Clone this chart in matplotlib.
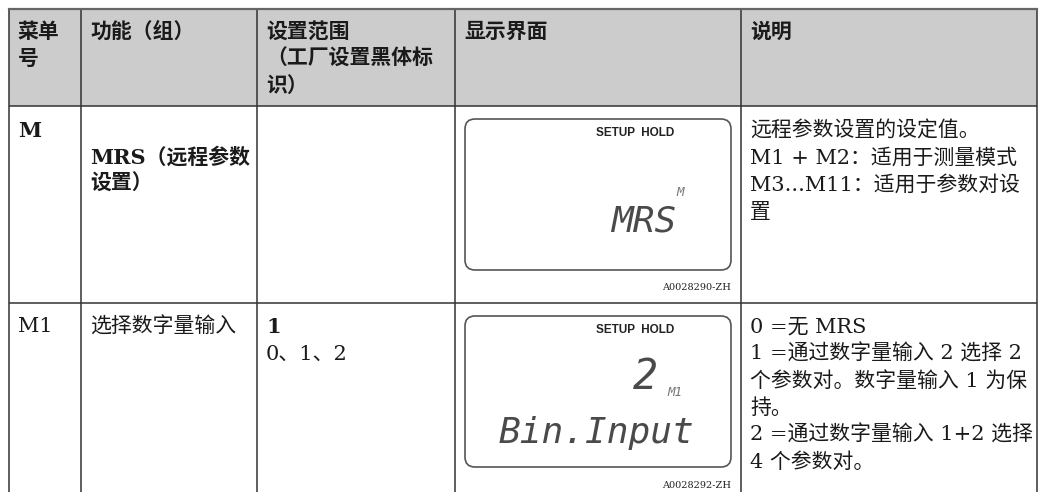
import matplotlib.pyplot as plt
from matplotlib.patches import Rectangle, FancyBboxPatch

# table content
headers = [['菜单', '号'], ['功能（组）'], ['设置范围', '（工厂设置黑体标', '识）'], ['显示界面'], ['说明']]
menu_ids = ['M', 'M1']
menu_bold = [True, False]
functions = [['MRS（远程参数', '设置）'], ['选择数字量输入']]
function_bold = [True, False]
ranges = [[], ['1', '0、1、2']]
range_bold = [[], [True, False]]
descriptions = [
    ['远程参数设置的设定值。', 'M1 + M2：适用于测量模式', 'M3...M11：适用于参数对设', '置'],
    ['0 =无 MRS', '1 =通过数字量输入 2 选择 2', '个参数对。数字量输入 1 为保', '持。',
     '2 =通过数字量输入 1+2 选择', '4 个参数对。'],
]
# display screens
lcd_status = ['SETUP  HOLD', 'SETUP  HOLD']
lcd_value = ['', '2']
lcd_code = ['M', 'M1']
lcd_main = ['MRS', 'Bin.Input']
figure_ids = ['A0028290-ZH', 'A0028292-ZH']

W, H = 1044, 492
col_x = [9, 81, 257, 455, 741, 1037]
row_y = [9, 106, 303, 530]
line_h = 27
fs = 15
body_font = ['DejaVu Serif', 'Noto Sans CJK SC']
head_font = ['Noto Sans CJK SC', 'DejaVu Sans']
ink = '#1a1a1a'
grid = '#333333'

fig = plt.figure(figsize=(W / 100, H / 100), dpi=100)
ax = fig.add_axes([0, 0, 1, 1])
ax.set_xlim(0, W)
ax.set_ylim(H, 0)
ax.axis('off')

# header background
ax.add_patch(Rectangle((col_x[0], row_y[0]), col_x[-1] - col_x[0], row_y[1] - row_y[0],
                       facecolor='#cccccc', edgecolor='none'))

# grid lines
for x in col_x:
    ax.plot([x, x], [row_y[0], row_y[-1]], color=grid, lw=1.1, solid_capstyle='butt')
for y in row_y[:-1]:
    ax.plot([col_x[0], col_x[-1]], [y, y], color=grid, lw=1.1, solid_capstyle='butt')
ax.plot([col_x[0], col_x[-1]], [row_y[0], row_y[0]], color='#666666', lw=1.6)


def cell_lines(col, y0, lines, bold, font=body_font):
    for i, s in enumerate(lines):
        b = bold[i] if isinstance(bold, list) else bold
        ax.text(col_x[col] + 9, y0 + i * line_h, s, fontsize=fs, family=font,
                fontweight='bold' if b else 'normal', color=ink, va='center', ha='left')


# header text
for c, lines in enumerate(headers):
    cell_lines(c, 31, lines, True, head_font)

# body rows
row_top = [131, 327]
func_top = [157, 327]
for r in range(len(menu_ids)):
    cell_lines(0, row_top[r], [menu_ids[r]], menu_bold[r])
    cell_lines(1, func_top[r], functions[r], function_bold[r])
    cell_lines(2, row_top[r], ranges[r], range_bold[r])
    cell_lines(4, row_top[r], descriptions[r], False)

# display screens
box_top = [119, 316]
box_x, box_w, box_h = 465, 266, 151
for r in range(len(lcd_main)):
    y0 = box_top[r]
    ax.add_patch(FancyBboxPatch((box_x, y0), box_w, box_h,
                                boxstyle='round,pad=0,rounding_size=10',
                                facecolor='none', edgecolor='#555555', lw=1.2))
    ax.text(635, y0 + 14, lcd_status[r], fontsize=8.5, family='Liberation Sans',
            fontweight='bold', color='#222222', ha='center', va='center')
    if lcd_value[r]:
        ax.text(658, y0 + 61, lcd_value[r], fontsize=30, family='DejaVu Sans Mono',
                style='italic', color='#4a4a4a', ha='right', va='center')
        ax.text(667, y0 + 76, lcd_code[r], fontsize=9, family='DejaVu Sans Mono',
                style='italic', color='#777777', ha='left', va='center')
        ax.text(694, y0 + 117, lcd_main[r], fontsize=26, family='DejaVu Sans Mono',
                style='italic', color='#4a4a4a', ha='right', va='center')
    else:
        ax.text(684, y0 + 74, lcd_code[r], fontsize=9, family='DejaVu Sans Mono',
                style='italic', color='#777777', ha='right', va='center')
        ax.text(676, y0 + 103, lcd_main[r], fontsize=26, family='DejaVu Sans Mono',
                style='italic', color='#4a4a4a', ha='right', va='center')
    ax.text(731, y0 + box_h + 18, figure_ids[r], fontsize=7, family='DejaVu Serif',
            color='#222222', ha='right', va='center')

fig.savefig('out.png', dpi=100)
